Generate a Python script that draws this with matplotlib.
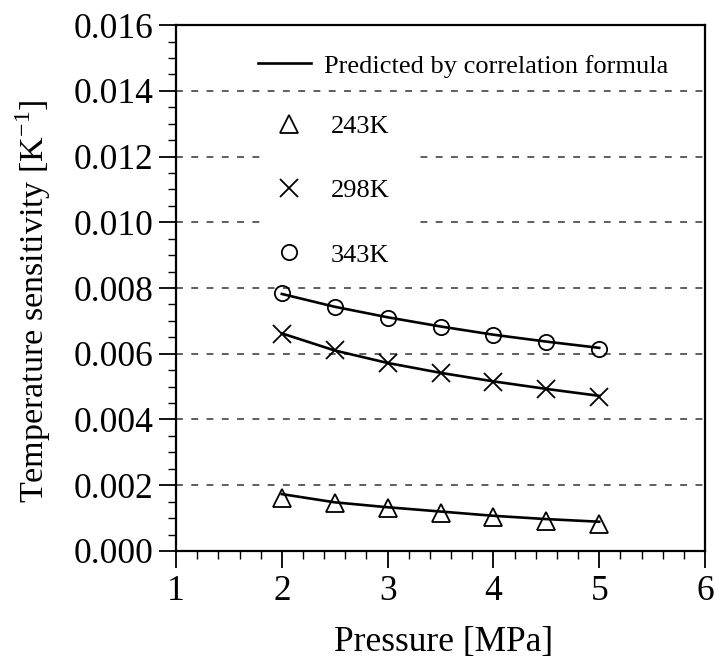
import matplotlib
matplotlib.use("Agg")
import matplotlib.pyplot as plt
from matplotlib.lines import Line2D
from matplotlib.ticker import MultipleLocator, FormatStrFormatter

plt.rcParams['font.family'] = ['Liberation Serif', 'DejaVu Serif']

pressure = [2.0, 2.5, 3.0, 3.5, 4.0, 4.5, 5.0]

# measured points
s243 = [0.00162, 0.00145, 0.00130, 0.00117, 0.00104, 0.00092, 0.00082]
s298 = [0.00660, 0.00611, 0.00573, 0.00542, 0.00515, 0.00492, 0.00468]
s343 = [0.00784, 0.00743, 0.00710, 0.00682, 0.00657, 0.00637, 0.00615]

# predicted by correlation formula
c243 = [0.00173, 0.00148, 0.00133, 0.00120, 0.00107, 0.00097, 0.00089]
c298 = [0.00662, 0.00610, 0.00572, 0.00542, 0.00516, 0.00493, 0.00472]
c343 = [0.00782, 0.00743, 0.00711, 0.00683, 0.00658, 0.00637, 0.00618]

labels = ["243K", "298K", "343K"]

fig = plt.figure(figsize=(7.15, 6.6), dpi=100)
ax = fig.add_axes([0.2462, 0.1652, 0.7398, 0.7968])

for y in [0.002, 0.004, 0.006, 0.008, 0.010, 0.012, 0.014]:
    ax.axhline(y, color="#333333", linestyle=(0, (4.5, 5.5)), linewidth=1.1, zorder=1)

for c in [c243, c298, c343]:
    ax.plot(pressure, c, color="black", linewidth=1.9, zorder=3)

ax.plot(pressure, s243, linestyle="none", marker="^", markersize=13,
        markerfacecolor="none", markeredgecolor="black", markeredgewidth=1.3, zorder=4)
ax.plot(pressure, s298, linestyle="none", marker="x", markersize=12.5,
        markeredgecolor="black", markeredgewidth=1.3, zorder=4)
ax.plot(pressure, s343, linestyle="none", marker="o", markersize=11,
        markerfacecolor="none", markeredgecolor="black", markeredgewidth=1.3, zorder=4)

ax.set_xlim(1, 6)
ax.set_ylim(0, 0.016)
ax.xaxis.set_major_locator(MultipleLocator(1))
ax.xaxis.set_minor_locator(MultipleLocator(0.2))
ax.yaxis.set_major_locator(MultipleLocator(0.002))
ax.yaxis.set_minor_locator(MultipleLocator(0.0005))
ax.yaxis.set_major_formatter(FormatStrFormatter("%.3f"))

ax.tick_params(which="major", direction="out", length=12.5, width=1.3, labelsize=25.5)
ax.tick_params(which="minor", direction="out", length=6, width=1.0)
ax.tick_params(axis="y", which="major", pad=3.5)
ax.tick_params(axis="x", which="major", pad=5)
for sp in ax.spines.values():
    sp.set_linewidth(1.6)

ax.set_xlabel("Pressure [MPa]", fontsize=25.5, va="top")
ax.xaxis.set_label_coords(0.505, -0.143)
ax.set_ylabel("Temperature sensitivity [K$^{\\mathregular{-1}}$]", fontsize=24.5)
ax.yaxis.set_label_coords(-0.232, 0.475)

h_line = [Line2D([], [], color="black", linewidth=1.9)]
leg1 = ax.legend(h_line, ["Predicted by correlation formula"], loc="upper left",
                 bbox_to_anchor=(0.11, 0.99), frameon=False, fontsize=19,
                 handlelength=2.0, handletextpad=0.5)
ax.add_artist(leg1)

h_mk = [
    Line2D([], [], linestyle="none", marker="^", markersize=13, markerfacecolor="none",
           markeredgecolor="black", markeredgewidth=1.3),
    Line2D([], [], linestyle="none", marker="x", markersize=12.5,
           markeredgecolor="black", markeredgewidth=1.3),
    Line2D([], [], linestyle="none", marker="o", markersize=11, markerfacecolor="none",
           markeredgecolor="black", markeredgewidth=1.3),
]
leg2 = ax.legend(h_mk, labels, loc="upper left", bbox_to_anchor=(0.163, 0.845, 0.286, 0),
                 mode="expand", frameon=True, fontsize=19, labelspacing=1.55,
                 handletextpad=0.9, handlelength=1.4, borderpad=0.3, borderaxespad=0)
leg2.get_frame().set_facecolor("white")
leg2.get_frame().set_edgecolor("none")
leg2.get_frame().set_alpha(1)

fig.savefig("out.png", dpi=100)
